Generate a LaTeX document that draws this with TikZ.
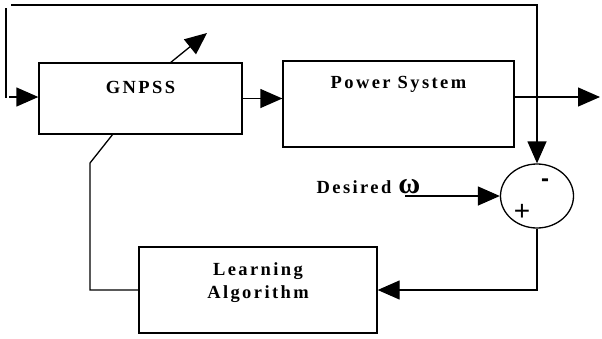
\documentclass[tikz,border=0pt]{standalone}
\usepackage{fontspec}
\setmainfont{Liberation Serif}
\newfontfamily\lblfont[LetterSpace=13]{Liberation Serif}
\newfontfamily\signfont{Liberation Sans}
\usepackage{tikz}
\usetikzlibrary{positioning,shapes.geometric,arrows.meta,calc}

\begin{document}
\begin{tikzpicture}[x=1pt,y=-1pt,line width=1.3pt,
  bloque/.style={draw,rectangle,inner sep=0pt},
  rotulo/.style={font=\lblfont\bfseries\fontsize{18.5}{23}\selectfont,inner sep=0pt,align=center},
  flecha/.style={-{Triangle[length=22pt,width=19pt]}}]
\useasboundingbox (0,0) rectangle (602,338);

%====================================================
% BLOQUES
%====================================================
\node[bloque,minimum width=203pt,minimum height=71pt,
  label={[rotulo,anchor=base,yshift=-31pt]north:GNPSS}] (gnpss) at (140.5,98.5) {};
\node[bloque,minimum width=231pt,minimum height=86pt,
  label={[rotulo,anchor=base,yshift=-28pt]north:Power System}] (power) at (398.5,104) {};
\node[bloque,minimum width=238pt,minimum height=86pt,
  label={[rotulo,anchor=north,yshift=-16pt]north:Learning\\Algorithm}] (learn) at (258,290) {};
\node[draw,ellipse,minimum width=73pt,minimum height=64pt,inner sep=0pt] (sum) at (537,196) {};
\node[font=\signfont\bfseries\fontsize{24}{24}\selectfont,inner sep=0pt] (menos) at (545,183) {-};
\node[font=\signfont\fontsize{28}{28}\selectfont,inner sep=0pt] (mas) at (522,212) {+};
\node[rotulo,anchor=base west] (desired) at (316,193) {Desired {\fontsize{30}{30}\selectfont ω}};

%====================================================
% PUNTOS DE PASO
%====================================================
\coordinate (lazoA) at (6,8);
\coordinate (lazoB) at (6,98);
\coordinate (lazoC) at (11,5);
\coordinate (entrada) at (9,97);
\coordinate (salida) at (600,97);
\coordinate (desde) at (405,196);
\coordinate (codo) at (90,163);
\coordinate (ajusteA) at (113,134);
\coordinate (ajusteB) at (170,63);
\coordinate (ajusteC) at (207,33);

%====================================================
% CONEXIONES
%====================================================
\draw (lazoA) -- (lazoB);
\draw[flecha] (lazoC) -| (sum.north);
\draw[flecha] (entrada) -- (gnpss.west |- entrada);
\draw[flecha] (gnpss.east) -- (gnpss.east -| power.west);
\draw[flecha] (power.east |- salida) -- (salida);
\draw[flecha] (desde) -- (sum.west);
\draw[flecha] (sum.south) |- (learn.east);
\draw (learn.west) -| (codo) -- (ajusteA);
\draw[flecha] (ajusteB) -- (ajusteC);
\end{tikzpicture}
\end{document}
